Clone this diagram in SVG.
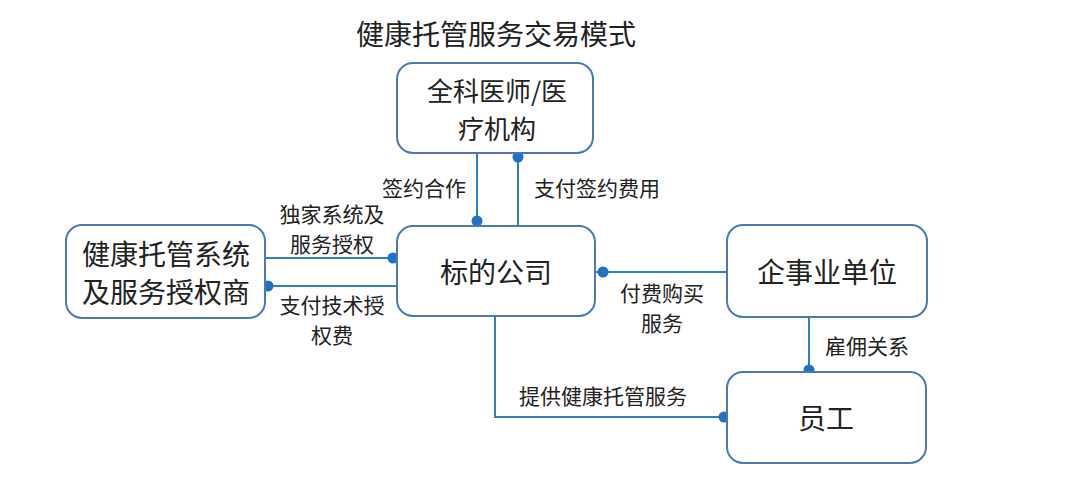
<svg xmlns="http://www.w3.org/2000/svg" width="1080" height="496" viewBox="0 0 1080 496">
<style>
.box{fill:#fff;stroke:#4a78b8;stroke-width:2}
.ln{fill:none;stroke:#2f7fc1;stroke-width:2}
.dot{fill:#1e73c4}
.t{font-family:"Noto Sans CJK SC","Noto Sans",sans-serif;fill:#222;text-anchor:middle;dominant-baseline:central}
.nt{font-size:28px}
.lt{font-size:21px}
</style>
<rect width="1080" height="496" fill="#fff"/>
<text class="t" x="496" y="33" style="font-size:28px">健康托管服务交易模式</text>
<g id="connectors">
<line class="ln" x1="477" y1="153" x2="477" y2="226"/>
<circle class="dot" cx="477" cy="221" r="5.5"/>
<line class="ln" x1="518" y1="153" x2="518" y2="226"/>
<circle class="dot" cx="518" cy="157" r="5.5"/>
<text class="t lt" x="424" y="187">签约合作</text>
<text class="t lt" x="597" y="187">支付签约费用</text>
<line class="ln" x1="265" y1="258" x2="397" y2="258"/>
<circle class="dot" cx="393" cy="258" r="5.5"/>
<line class="ln" x1="265" y1="286" x2="397" y2="286"/>
<circle class="dot" cx="268" cy="286" r="5.5"/>
<text class="t lt" x="332" y="213">独家系统及</text>
<text class="t lt" x="332" y="243">服务授权</text>
<text class="t lt" x="332" y="304">支付技术授</text>
<text class="t lt" x="332" y="334">权费</text>
<line class="ln" x1="595" y1="272" x2="727" y2="272"/>
<circle class="dot" cx="603" cy="272" r="5.5"/>
<text class="t lt" x="662" y="292">付费购买</text>
<text class="t lt" x="662" y="322">服务</text>
<line class="ln" x1="809" y1="317" x2="809" y2="372"/>
<circle class="dot" cx="809" cy="370" r="5.5"/>
<text class="t lt" x="867" y="345">雇佣关系</text>
<polyline class="ln" points="495,316 495,417 727,417"/>
<circle class="dot" cx="724" cy="417" r="5.5"/>
<text class="t lt" x="603" y="395">提供健康托管服务</text>
</g>
<g id="n1">
<rect class="box" x="397" y="63" width="196" height="90" rx="16"/>
<text class="t nt" x="497" y="89" style="font-size:26px">全科医师/医</text>
<text class="t nt" x="497" y="127" style="font-size:26px">疗机构</text>
</g>
<g id="n2">
<rect class="box" x="397" y="226" width="198" height="90" rx="16"/>
<text class="t nt" x="496" y="271">标的公司</text>
</g>
<g id="n3">
<rect class="box" x="66" y="225" width="199" height="93" rx="16"/>
<text class="t nt" x="166" y="253">健康托管系统</text>
<text class="t nt" x="166" y="291">及服务授权商</text>
</g>
<g id="n4">
<rect class="box" x="727" y="225" width="200" height="92" rx="16"/>
<text class="t nt" x="827" y="271">企事业单位</text>
</g>
<g id="n5">
<rect class="box" x="727" y="372" width="199" height="91" rx="16"/>
<text class="t nt" x="826" y="417">员工</text>
</g>
</svg>
